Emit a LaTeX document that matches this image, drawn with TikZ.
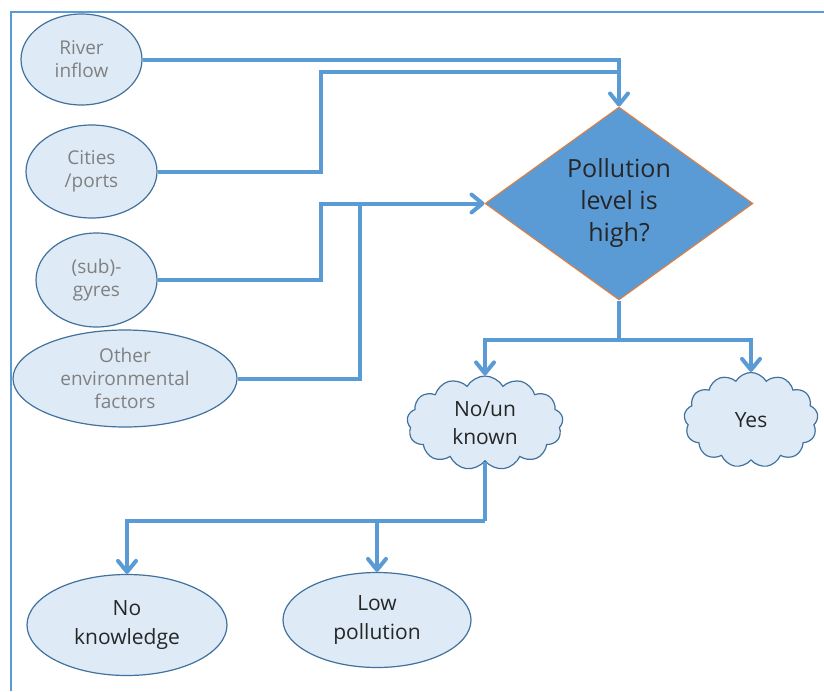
\documentclass[tikz,border=0pt]{standalone}
\usepackage{fontspec}
\setmainfont{Open Sans}
\usetikzlibrary{shapes.geometric,shapes.symbols,arrows.meta}
\definecolor{lineblue}{HTML}{5B9BD5}
\definecolor{ellfill}{HTML}{DEEBF7}
\definecolor{elldraw}{HTML}{41719C}
\definecolor{diaorange}{HTML}{ED7D31}
\definecolor{graytext}{HTML}{808080}
\definecolor{darktext}{HTML}{262626}
\tikzset{
  srcnode/.style={ellipse, draw=elldraw, fill=ellfill, line width=1.2pt, inner sep=0pt,
    align=center, text=graytext, font=\fontsize{19}{23}\selectfont},
  resnode/.style={ellipse, draw=elldraw, fill=ellfill, line width=1.2pt, inner sep=0pt,
    align=center, text=darktext, font=\fontsize{21}{29}\selectfont},
  cloudnode/.style={cloud, cloud puffs=13, cloud puff arc=120, cloud ignores aspect,
    draw=elldraw, fill=ellfill, line width=1.2pt, inner sep=0pt,
    align=center, text=darktext, font=\fontsize{21}{28}\selectfont},
  conn/.style={draw=lineblue, line width=4pt},
  arr/.style={conn, -{Straight Barb[length=11pt,width=18pt,round]}},
}
\begin{document}
\begin{tikzpicture}[x=1pt,y=-1pt]
\useasboundingbox (0,0) rectangle (824,691);
% frame (left and top edges visible)
\draw[lineblue, line width=2pt] (11,691) -- (11,12) -- (824,12);

% source ellipses
\node[srcnode, minimum width=121pt, minimum height=91pt] (river) at (81.5,59.5) {River\\inflow};
\node[srcnode, minimum width=131pt, minimum height=93pt] (cities) at (91.5,171.5) {Cities\\/ports};
\node[srcnode, minimum width=121pt, minimum height=94pt] (gyres) at (96.5,280) {(sub)-\\gyres};
\node[srcnode, minimum width=224pt, minimum height=97pt] (other) at (125,378.5) {Other\\environmental\\factors};

% decision
\node[diamond, draw=diaorange, fill=lineblue, line width=1pt, minimum width=268pt,
  minimum height=193pt, inner sep=0pt, align=center, text=darktext,
  font=\fontsize{25}{32}\selectfont] (dia) at (619,203.5) {Pollution\\level is\\high?};

% clouds
\node[cloudnode, minimum width=156pt, minimum height=94pt] (nocl) at (485,423) {No/un\\known};
\node[cloudnode, minimum width=134pt, minimum height=95pt] (yescl) at (751,420) {Yes};

% results
\node[resnode, minimum width=200pt, minimum height=101pt] (nk) at (127,625) {No\\knowledge};
\node[resnode, minimum width=188pt, minimum height=95pt] (lp) at (377,620) {Low\\pollution};

% coordinates for elbows
\coordinate (c1) at (321,72);
\coordinate (g1) at (321,203.5);
\coordinate (o1) at (360,203.5);
\coordinate (b1) at (619,340);
\coordinate (b2) at (nocl.south |- 0,521);

% connectors into decision
\draw[conn] (cities.east) -| (c1) -- (c1 -| dia.north);
\draw[arr] (river.east) -| (dia.north);
\draw[conn] (other.east) -| (o1);
\draw[arr] (gyres.east) -| (g1) -- (dia.west);

% decision outputs
\draw[conn] (dia.south) -- (b1);
\draw[arr] (b1) -| (nocl.north);
\draw[arr] (b1) -| (yescl.north);

% unknown branch
\draw[conn] (nocl.south) -- (b2);
\draw[arr] (b2) -| (nk.north);
\draw[arr] (b2 -| lp.north) -- (lp.north);
\end{tikzpicture}
\end{document}
